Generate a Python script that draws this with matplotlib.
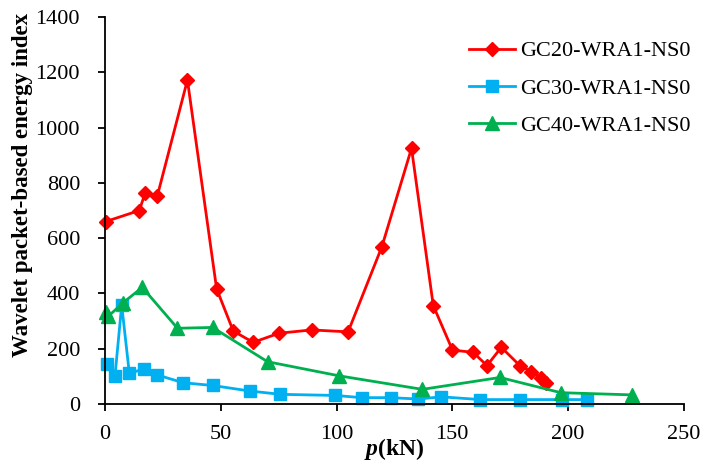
import matplotlib
matplotlib.use("Agg")
import matplotlib.pyplot as plt
from matplotlib import rcParams

rcParams['font.family'] = ['Liberation Serif', 'DejaVu Serif']
rcParams['mathtext.fontset'] = 'custom'
rcParams['mathtext.it'] = 'Liberation Serif:italic:bold'
rcParams['mathtext.rm'] = 'Liberation Serif:bold'
rcParams['xtick.direction'] = 'out'
rcParams['ytick.direction'] = 'out'
rcParams['xtick.labelsize'] = 16
rcParams['ytick.labelsize'] = 16

# GC20-WRA1-NS0
p20 = [0.3, 14.8, 17.3, 22.6, 35.6, 48.2, 55.4, 64.0, 75.1, 89.2, 105.0, 119.6,
       132.4, 141.8, 150.1, 159.0, 165.0, 171.2, 179.2, 184.2, 188.3, 190.4]
e20 = [660, 700, 762, 753, 1172, 417, 264, 223, 256, 268, 261, 569,
       925, 356, 195, 187, 139, 205, 139, 117, 95, 75]

# GC30-WRA1-NS0
p30 = [0.7, 4.3, 7.2, 10.5, 16.9, 22.6, 33.8, 46.5, 62.6, 75.8, 99.5, 110.8,
       123.4, 135.2, 145.3, 162.2, 179.2, 197.2, 208.4]
e30 = [143, 101, 358, 111, 127, 105, 77, 67, 47, 35, 31, 23,
       23, 18, 26, 16, 16, 16, 16]

# GC40-WRA1-NS0
p40 = [0.5, 1.5, 7.9, 16.1, 31.3, 46.5, 70.2, 101.1, 137.1, 170.6, 196.9, 227.8]
e40 = [332, 318, 367, 422, 274, 277, 153, 102, 53, 96, 41, 33]

fig = plt.figure(figsize=(7.02, 4.63), dpi=100)
ax = fig.add_axes([0.1496, 0.1274, 0.8244, 0.8359])

ax.plot(p20, e20, color='#FF0000', marker='D', markersize=7, linewidth=2.0,
        label='GC20-WRA1-NS0')
ax.plot(p30, e30, color='#00B0F0', marker='s', markersize=8.5, linewidth=2.0,
        label='GC30-WRA1-NS0')
ax.plot(p40, e40, color='#00B050', marker='^', markersize=9.5, linewidth=2.0,
        label='GC40-WRA1-NS0')

ax.set_xlim(0, 250)
ax.set_ylim(0, 1400)
ax.set_xticks([0, 50, 100, 150, 200, 250])
ax.set_yticks(range(0, 1401, 200))
ax.spines['top'].set_visible(False)
ax.spines['right'].set_visible(False)
ax.spines['left'].set_linewidth(1.3)
ax.spines['bottom'].set_linewidth(1.3)
ax.tick_params(width=1.3, length=5)
ax.tick_params(axis='x', pad=10)
ax.tick_params(axis='y', pad=13)
for ln in ax.lines:
    ln.set_clip_on(False)

ax.set_xlabel('$p$(kN)', fontsize=17, fontweight='bold', labelpad=-6)
ax.set_ylabel('Wavelet packet-based energy index', fontsize=16.5, fontweight='bold')
ax.yaxis.set_label_coords(-0.124, 0.566)

ax.legend(loc='upper right', frameon=False, fontsize=16, handlelength=2.1,
          labelspacing=0.75, handletextpad=0.2, bbox_to_anchor=(1.046, 0.99))

plt.savefig('out.png', dpi=100)
